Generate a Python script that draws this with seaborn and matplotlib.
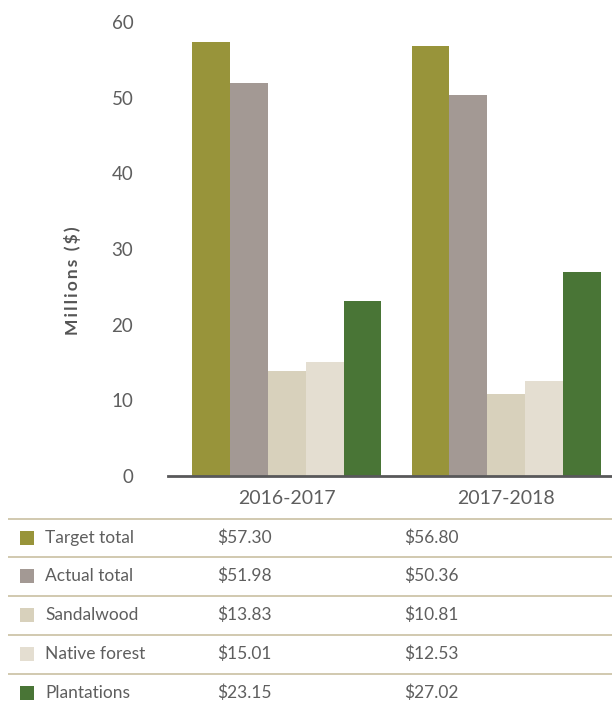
import matplotlib
matplotlib.use("Agg")
import matplotlib.pyplot as plt
from matplotlib.patches import Rectangle
import seaborn as sns
import pandas as pd

# Figures in millions of dollars
years = ["2016-2017", "2017-2018"]
series = ["Target total", "Actual total", "Sandalwood", "Native forest", "Plantations"]
values_2016 = [57.30, 51.98, 13.83, 15.01, 23.15]
values_2017 = [56.80, 50.36, 10.81, 12.53, 27.02]
colors = ["#98943a", "#a39994", "#d8d1bc", "#e4ded1", "#497536"]
y_ticks = [0, 10, 20, 30, 40, 50, 60]
y_title = "Millions ($)"

rows = []
for name, v16, v17 in zip(series, values_2016, values_2017):
    rows.append({"year": years[0], "series": name, "value": v16})
    rows.append({"year": years[1], "series": name, "value": v17})
df = pd.DataFrame(rows)

sns.set_theme(style="white")
plt.rcParams["font.family"] = ["Lato", "DejaVu Sans"]

TXT = "#5e5e5e"
W, H = 612, 711
fig = plt.figure(figsize=(W / 100, H / 100), dpi=100)

# chart area in pixel terms
left, right, top, bottom = 168, 612, 22, 476
ax = fig.add_axes([left / W, 1 - bottom / H, (right - left) / W, (bottom - top) / H])

sns.barplot(data=df, x="year", y="value", hue="series", hue_order=series,
            palette=colors, width=0.863, gap=0, saturation=1, linewidth=0,
            legend=False, ax=ax, errorbar=None)

ax.set_ylim(0, 60)
ax.set_xlim(-0.541, 1.482)
ax.set_yticks(y_ticks)
ax.set_yticklabels([str(t) for t in y_ticks])
ax.tick_params(axis="y", length=0, pad=25, labelsize=13.5, labelcolor=TXT)
ax.tick_params(axis="x", length=0, pad=10, labelsize=14, labelcolor=TXT)
ax.set_xlabel("")
# letter-spaced axis title
spaced = "\u2009".join(y_title)
ax.set_ylabel(spaced, fontsize=12.5, color="#555555", fontweight="bold")
ax.yaxis.set_label_coords(-0.195, 0.43)
for side in ["top", "right", "left"]:
    ax.spines[side].set_visible(False)
ax.spines["bottom"].set_color("#58585a")
ax.spines["bottom"].set_linewidth(2)

# data table below the chart
tbl_top = 510
tax = fig.add_axes([0, 0, 1, (H - tbl_top) / H])
tax.set_xlim(0, W)
tax.set_ylim(H, tbl_top)
tax.axis("off")

line_y = [519, 557, 596, 635, 674]
text_y = [538, 576, 615, 654, 693]
for y in line_y:
    tax.plot([8, W], [y, y], color="#c9c0a2", linewidth=1.2, solid_capstyle="butt")

for name, v16, v17, c, y in zip(series, values_2016, values_2017, colors, text_y):
    tax.add_patch(Rectangle((20, y - 7), 14, 14, facecolor=c, edgecolor="none"))
    tax.text(45, y, name, ha="left", va="center", fontsize=12.5, color=TXT)
    tax.text(244, y, f"${v16:.2f}", ha="center", va="center", fontsize=12.5, color=TXT)
    tax.text(431, y, f"${v17:.2f}", ha="center", va="center", fontsize=12.5, color=TXT)

fig.savefig("out.png", dpi=100)
